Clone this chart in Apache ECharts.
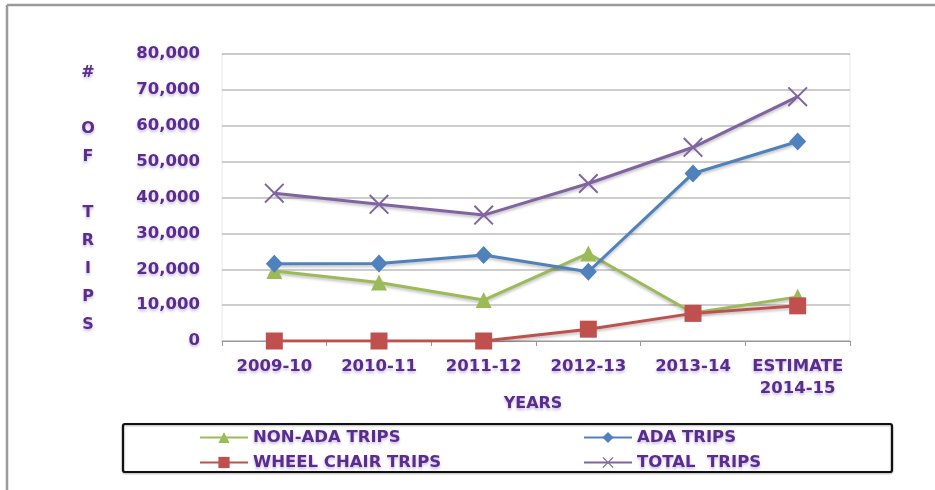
<!DOCTYPE html>
<html>
<head>
<meta charset="utf-8">
<script src="https://cdn.jsdelivr.net/npm/echarts@6/dist/echarts.min.js"></script>
<style>
html,body{margin:0;padding:0;background:#fff;}
#c{width:935px;height:490px;}
</style>
</head>
<body>
<div id="c"></div>
<script>
const categories = ['2009-10', '2010-11', '2011-12', '2012-13', '2013-14', 'ESTIMATE\n2014-15'];
const nonAdaTrips = [19500, 16300, 11400, 24400, 7800, 12300];
const adaTrips = [21500, 21600, 24000, 19300, 46700, 55600];
const wheelChairTrips = [0, 0, 0, 3300, 7700, 9800];
const totalTrips = [41200, 38100, 35100, 43900, 54000, 68100];
const yTicks = [0, 10000, 20000, 30000, 40000, 50000, 60000, 70000, 80000];

const PURPLE = '#5b2c8f';
const FONT = 'DejaVu Sans';
const shadowText = { textShadowColor: 'rgba(90,60,140,0.35)', textShadowBlur: 3, textShadowOffsetY: 2 };
const xPath = 'path://M0,0.7L0.7,0L10,9.3L9.3,10Z M9.3,0L10,0.7L0.7,10L0,9.3Z';

const chart = echarts.init(document.getElementById('c'), null, { renderer: 'canvas' });

function fmt(v) { return String(v).replace(/\B(?=(\d{3})+(?!\d))/g, ','); }

const lineShadow = { shadowColor: 'rgba(0,0,0,0.25)', shadowBlur: 3, shadowOffsetY: 2 };

chart.setOption({
  animation: false,
  backgroundColor: '#fff',
  grid: { left: 222, right: 85, top: 54, bottom: 149, show: true, borderColor: '#e6e6e6', borderWidth: 1 },
  xAxis: {
    type: 'category',
    data: categories,
    boundaryGap: true,
    axisLine: { lineStyle: { color: '#9a9a9a', width: 1 } },
    axisTick: { show: true, length: 5, lineStyle: { color: '#9a9a9a' } },
    axisLabel: { color: PURPLE, fontFamily: FONT, fontWeight: 'bold', fontSize: 16.5, lineHeight: 22, margin: 15, interval: 0, ...shadowText }
  },
  yAxis: {
    type: 'value',
    min: yTicks[0],
    max: yTicks[yTicks.length - 1],
    interval: yTicks[1] - yTicks[0],
    axisLine: { show: false },
    axisTick: { show: false },
    splitLine: { lineStyle: { color: '#bcbcbc', width: 1.5 } },
    axisLabel: { color: PURPLE, fontFamily: FONT, fontWeight: 'bold', fontSize: 16.5, margin: 22, formatter: fmt, ...shadowText }
  },
  legend: [
    {
      data: ['NON-ADA TRIPS', 'WHEEL CHAIR TRIPS'],
      orient: 'vertical', left: 194, top: 424, itemWidth: 48, itemHeight: 14, itemGap: 8,
      textStyle: { color: PURPLE, fontFamily: FONT, fontWeight: 'bold', fontSize: 16.5, ...shadowText }
    },
    {
      data: ['ADA TRIPS', 'TOTAL  TRIPS'],
      orient: 'vertical', left: 578, top: 424, itemWidth: 48, itemHeight: 14, itemGap: 8,
      textStyle: { color: PURPLE, fontFamily: FONT, fontWeight: 'bold', fontSize: 16.5, ...shadowText }
    }
  ],
  graphic: [
    { type: 'line', shape: { x1: 7, y1: 5, x2: 7, y2: 490 }, style: { stroke: '#9a9a9a', lineWidth: 2.5 } },
    { type: 'line', shape: { x1: 7, y1: 5, x2: 935, y2: 5 }, style: { stroke: '#9a9a9a', lineWidth: 2.5 } },
    { type: 'rect', shape: { x: 123, y: 424, width: 769, height: 48, r: 2 }, style: { fill: 'none', stroke: '#111', lineWidth: 2.2, shadowColor: 'rgba(0,0,0,0.3)', shadowBlur: 2, shadowOffsetY: 1 }, z: -1 },
    { type: 'text', x: 88, y: 59, style: { text: '#\n\nO\nF\n\nT\nR\nI\nP\nS', align: 'center', verticalAlign: 'top', lineHeight: 28, fill: PURPLE, font: 'bold 16px "DejaVu Sans"', ...shadowText } },
    { type: 'text', x: 533, y: 404, style: { text: 'YEARS', align: 'center', verticalAlign: 'middle', fill: PURPLE, font: 'bold 16px "DejaVu Sans"', ...shadowText } }
  ],
  series: [
    {
      name: 'NON-ADA TRIPS', type: 'line', data: nonAdaTrips, z: 2,
      symbol: 'triangle', symbolSize: 16,
      lineStyle: { color: '#9bbb59', width: 3, ...lineShadow },
      itemStyle: { color: '#9bbb59' }
    },
    {
      name: 'ADA TRIPS', type: 'line', data: adaTrips, z: 3,
      symbol: 'diamond', symbolSize: [17, 18],
      lineStyle: { color: '#4f81bd', width: 3, ...lineShadow },
      itemStyle: { color: '#4f81bd' }
    },
    {
      name: 'WHEEL CHAIR TRIPS', type: 'line', data: wheelChairTrips, z: 4,
      symbol: 'rect', symbolSize: 17,
      lineStyle: { color: '#c0504d', width: 3, ...lineShadow },
      itemStyle: { color: '#c0504d' }
    },
    {
      name: 'TOTAL  TRIPS', type: 'line', data: totalTrips, z: 3,
      symbol: xPath, symbolSize: 20,
      lineStyle: { color: '#8064a2', width: 3, ...lineShadow },
      itemStyle: { color: '#8064a2' }
    }
  ]
});
</script>
</body>
</html>
